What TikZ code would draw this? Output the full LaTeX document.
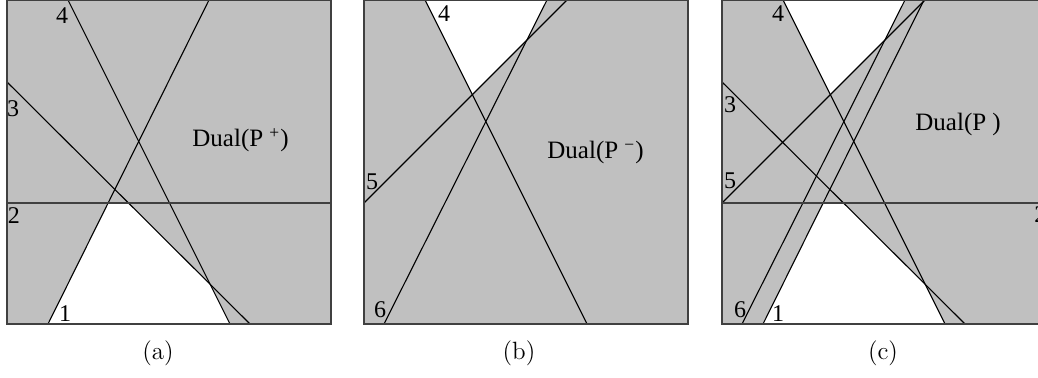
\documentclass[tikz,border=0pt]{standalone}
\usepackage{fontspec}
\newfontfamily\timesfont{Liberation Serif}
\definecolor{dualgray}{RGB}{192,192,192}
\definecolor{edgegray}{RGB}{64,64,64}

\begin{document}
\begin{tikzpicture}[
    x=0.5pt, y=-0.5pt,
    frame/.style={draw=edgegray, line width=0.6pt},
    cut/.style={draw=black, line width=0.55pt},
    num/.style={font=\timesfont\fontsize{12}{13}\selectfont, inner sep=0pt},
    dual/.style={font=\timesfont\fontsize{12.5}{14}\selectfont, inner sep=0pt, anchor=base west},
    subcap/.style={font=\fontsize{12.5}{14}\selectfont, inner sep=0pt}
]
    \useasboundingbox (0,0) rectangle (1038,378);

    % (a) lines 1-4
    \begin{scope}[shift={(7,0)}]
        \fill[dualgray] (0,0) rectangle (324,324);
        % white cell: below 2, right of 1, left of 3 and 4
        \begin{scope}
            \clip (0,203) rectangle (324,324);
            \clip (41,324) -- (202,0) -- (324,0) -- (324,324) -- cycle;
            \clip (0,82) -- (243,324) -- (0,324) -- cycle;
            \clip (61,0) -- (223,324) -- (0,324) -- (0,0) -- cycle;
            \fill[white] (0,0) rectangle (324,324);
        \end{scope}
        \draw[cut] (41,324) -- (202,0);
        \draw[cut] (0,82) -- (243,324);
        \draw[cut] (61,0) -- (223,324);
        \draw[frame] (0,203) -- (324,203);
        \draw[frame] (0,0) rectangle (324,324);

        \node[num] (a4) at (55,16) {4};
        \node[num] (a3) at (6,109) {3};
        \node[num] (a2) at (7,216) {2};
        \node[num] (a1) at (58,314) {1};
        \node[dual] (dualA) at (185,147) {Dual(P \textsuperscript{+})};
    \end{scope}
    \node[subcap] (capA) at (158,353) {(a)};

    % (b) lines 4-6
    \begin{scope}[shift={(364,0)}]
        \fill[dualgray] (0,0) rectangle (324,324);
        % white cell: above 5, left of 6, right of 4
        \begin{scope}
            \clip (0,203) -- (203,0) -- (0,0) -- cycle;
            \clip (20,324) -- (183,0) -- (0,0) -- (0,324) -- cycle;
            \clip (61,0) -- (223,324) -- (324,324) -- (324,0) -- cycle;
            \fill[white] (0,0) rectangle (324,324);
        \end{scope}
        \draw[cut] (61,0) -- (223,324);
        \draw[cut] (0,203) -- (203,0);
        \draw[cut] (20,324) -- (183,0);
        \draw[frame] (0,0) rectangle (324,324);

        \node[num] (b4) at (80,14) {4};
        \node[num] (b5) at (8,182) {5};
        \node[num] (b6) at (16,310) {6};
        \node[dual] (dualB) at (183,159) {Dual(P \textsuperscript{−})};
    \end{scope}
    \node[subcap] (capB) at (519,353) {(b)};

    % (c) all six lines
    \begin{scope}[shift={(722,0)}]
        \fill[dualgray] (0,0) rectangle (324,324);
        % white cell at the bottom
        \begin{scope}
            \clip (0,203) rectangle (324,324);
            \clip (41,324) -- (202,0) -- (324,0) -- (324,324) -- cycle;
            \clip (0,82) -- (243,324) -- (0,324) -- cycle;
            \clip (61,0) -- (223,324) -- (0,324) -- (0,0) -- cycle;
            \fill[white] (0,0) rectangle (324,324);
        \end{scope}
        % white cell at the top
        \begin{scope}
            \clip (0,203) -- (203,0) -- (0,0) -- cycle;
            \clip (20,324) -- (183,0) -- (0,0) -- (0,324) -- cycle;
            \clip (61,0) -- (223,324) -- (324,324) -- (324,0) -- cycle;
            \fill[white] (0,0) rectangle (324,324);
        \end{scope}
        \draw[cut] (41,324) -- (202,0);
        \draw[cut] (0,82) -- (243,324);
        \draw[cut] (61,0) -- (223,324);
        \draw[cut] (0,203) -- (203,0);
        \draw[cut] (20,324) -- (183,0);
        \draw[frame] (0,203) -- (324,203);
        \draw[frame] (0,0) rectangle (324,324);

        \node[num] (c4) at (56,14) {4};
        \node[num] (c3) at (8,105) {3};
        \node[num] (c5) at (8,181) {5};
        \node[num] (c6) at (18,310) {6};
        \node[num] (c1) at (56,314) {1};
        \node[num, anchor=west] (c2) at (312,215) {2};
        \node[dual] (dualC) at (193,131) {Dual(P )};
    \end{scope}
    \node[subcap] (capC) at (883,353) {(c)};
\end{tikzpicture}
\end{document}
